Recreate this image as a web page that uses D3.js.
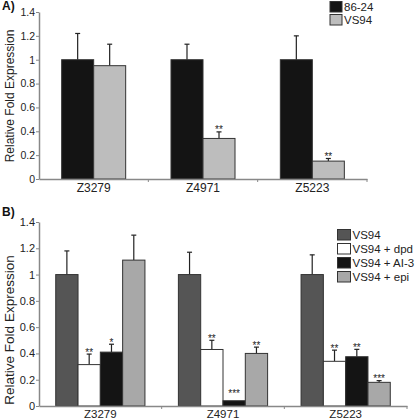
<!DOCTYPE html>
<html><head><meta charset="utf-8">
<script src="https://cdn.jsdelivr.net/npm/d3@7"></script>
<style>body{margin:0;background:#fff}svg{display:block;font-family:"Liberation Sans",Arial,sans-serif}</style>
</head><body>
<script>
// Panel A data
const categories = ["Z3279", "Z4971", "Z5223"];
const seriesA = ["86-24", "VS94"];
const valuesA_8624 = [1.0, 1.0, 1.0];
const errorsA_8624 = [0.22, 0.13, 0.20];
const starsA_8624 = ["", "", ""];
const valuesA_VS94 = [0.95, 0.34, 0.15];
const errorsA_VS94 = [0.18, 0.055, 0.022];
const starsA_VS94 = ["", "**", "**"];
// Panel B data
const seriesB = ["VS94", "VS94 + dpd", "VS94 + AI-3", "VS94 + epi"];
const valuesB_VS94 = [1.0, 1.0, 1.0];
const errorsB_VS94 = [0.18, 0.17, 0.15];
const starsB_VS94 = ["", "", ""];
const valuesB_dpd = [0.315, 0.43, 0.34];
const errorsB_dpd = [0.08, 0.07, 0.085];
const starsB_dpd = ["**", "**", "**"];
const valuesB_AI3 = [0.41, 0.04, 0.375];
const errorsB_AI3 = [0.06, 0.0, 0.056];
const starsB_AI3 = ["*", "***", "**"];
const valuesB_epi = [1.11, 0.40, 0.18];
const errorsB_epi = [0.19, 0.048, 0.013];
const starsB_epi = ["", "**", "***"];
const yTicks = [0, 0.2, 0.4, 0.6, 0.8, 1, 1.2, 1.4];

const svg = d3.select("body").append("svg").attr("width", 416).attr("height", 420);

function panel(cfg) {
  const g = svg.append("g");
  const x0 = d3.scaleBand().domain(categories).range([cfg.x0, cfg.x1]).padding(0);
  const x1 = d3.scaleBand().domain(cfg.series.map(s => s.name)).range([0, x0.bandwidth()])
    .paddingInner(0).paddingOuter(cfg.po);
  const y = d3.scaleLinear().domain([0, 1.4]).range([cfg.y0, cfg.y1]);

  // bars
  cfg.series.forEach(s => {
    const data = categories.map((c, i) => ({c, v: s.values[i], e: s.errors[i], st: s.stars[i]}));
    const gs = g.append("g");
    gs.selectAll("line.err").data(data.filter(d => d.e > 0)).join("line")
      .attr("x1", d => x0(d.c) + x1(s.name) + x1.bandwidth() / 2)
      .attr("x2", d => x0(d.c) + x1(s.name) + x1.bandwidth() / 2)
      .attr("y1", d => y(d.v)).attr("y2", d => y(d.v + d.e))
      .attr("stroke", "#222").attr("stroke-width", 1.2);
    gs.selectAll("line.cap").data(data.filter(d => d.e > 0)).join("line")
      .attr("x1", d => x0(d.c) + x1(s.name) + x1.bandwidth() / 2 - 2.5)
      .attr("x2", d => x0(d.c) + x1(s.name) + x1.bandwidth() / 2 + 2.5)
      .attr("y1", d => y(d.v + d.e)).attr("y2", d => y(d.v + d.e))
      .attr("stroke", "#222").attr("stroke-width", 1.2);
    gs.selectAll("rect").data(data).join("rect")
      .attr("x", d => x0(d.c) + x1(s.name))
      .attr("width", x1.bandwidth())
      .attr("y", d => y(d.v)).attr("height", d => y(0) - y(d.v))
      .attr("fill", s.color).attr("stroke", "#333").attr("stroke-width", 1);
    gs.selectAll("text").data(data.filter(d => d.st)).join("text")
      .attr("x", d => x0(d.c) + x1(s.name) + x1.bandwidth() / 2)
      .attr("y", d => y(d.v + d.e) - (d.e > 0 ? -1.5 : 4))
      .attr("text-anchor", "middle").attr("font-size", 10).attr("fill", "#222")
      .text(d => d.st);
  });

  // y axis
  const ya = g.append("g").attr("transform", `translate(${cfg.x0},0)`)
    .call(d3.axisLeft(y).tickValues(yTicks).tickFormat(d3.format("~g")).tickSize(3).tickSizeOuter(0));
  ya.select(".domain").attr("stroke", "#888").attr("stroke-width", 1.5);
  ya.selectAll(".tick line").attr("stroke", "#888");
  ya.selectAll(".tick text").attr("font-size", cfg.tickFont).attr("fill", "#222")
    .attr("font-family", "Liberation Sans, Arial, sans-serif").attr("x", -4);

  // x axis
  const xa = g.append("g").attr("transform", `translate(0,${cfg.y0})`)
    .call(d3.axisBottom(x0).tickSize(0).tickSizeOuter(0));
  xa.select(".domain").attr("stroke", "#888").attr("stroke-width", 1.5);
  xa.selectAll(".tick text").attr("font-size", cfg.catFont).attr("fill", "#222")
    .attr("font-family", "Liberation Sans, Arial, sans-serif").attr("dy", cfg.catDy).attr("y", 0);
  // boundary ticks
  g.append("g").selectAll("line").data(categories.slice(1).map(c => x0(c)).concat([cfg.x1]))
    .join("line").attr("x1", d => d).attr("x2", d => d)
    .attr("y1", cfg.y0).attr("y2", cfg.y0 + 3).attr("stroke", "#888");

  // y title
  g.append("text").attr("transform", `translate(${cfg.titleX},${cfg.titleY}) rotate(-90)`)
    .attr("text-anchor", "middle").attr("font-size", cfg.titleFont).attr("fill", "#222")
    .text("Relative Fold Expression");

  // panel letter
  g.append("text").attr("x", 2).attr("y", cfg.letterY).attr("font-size", 12)
    .attr("font-weight", "bold").attr("fill", "#111").text(cfg.letter);

  // legend
  const lg = g.append("g");
  cfg.series.forEach((s, i) => {
    lg.append("rect").attr("x", cfg.legX).attr("y", cfg.legY + i * cfg.legStep)
      .attr("width", cfg.legW).attr("height", cfg.legH)
      .attr("fill", s.color).attr("stroke", "#333").attr("stroke-width", 1);
    lg.append("text").attr("x", cfg.legX + cfg.legW + 2).attr("y", cfg.legY + i * cfg.legStep + cfg.legBase)
      .attr("font-size", cfg.legFont).attr("fill", "#222").text(s.name);
  });
}

panel({
  letter: "A)", letterY: 10,
  x0: 39, x1: 367, y0: 179, y1: 12, po: 0.708,
  tickFont: 10.5, catFont: 12, catDy: "1.05em", titleFont: 12, titleX: 14, titleY: 96,
  legX: 330, legY: 1.5, legStep: 13, legW: 12, legH: 10.5, legBase: 9, legFont: 11.5,
  series: [
    {name: seriesA[0], values: valuesA_8624, errors: errorsA_8624, stars: starsA_8624, color: "#141414"},
    {name: seriesA[1], values: valuesA_VS94, errors: errorsA_VS94, stars: starsA_VS94, color: "#bdbdbd"}
  ]
});

panel({
  letter: "B)", letterY: 216,
  x0: 39, x1: 407, y0: 406, y1: 222, po: 0.75,
  tickFont: 11, catFont: 11.5, catDy: "1.0em", titleFont: 13.5, titleX: 14, titleY: 330,
  legX: 337.5, legY: 229.5, legStep: 14, legW: 13, legH: 10.5, legBase: 9.5, legFont: 11.5,
  series: [
    {name: seriesB[0], values: valuesB_VS94, errors: errorsB_VS94, stars: starsB_VS94, color: "#555555"},
    {name: seriesB[1], values: valuesB_dpd, errors: errorsB_dpd, stars: starsB_dpd, color: "#ffffff"},
    {name: seriesB[2], values: valuesB_AI3, errors: errorsB_AI3, stars: starsB_AI3, color: "#141414"},
    {name: seriesB[3], values: valuesB_epi, errors: errorsB_epi, stars: starsB_epi, color: "#a8a8a8"}
  ]
});
</script>
</body></html>
